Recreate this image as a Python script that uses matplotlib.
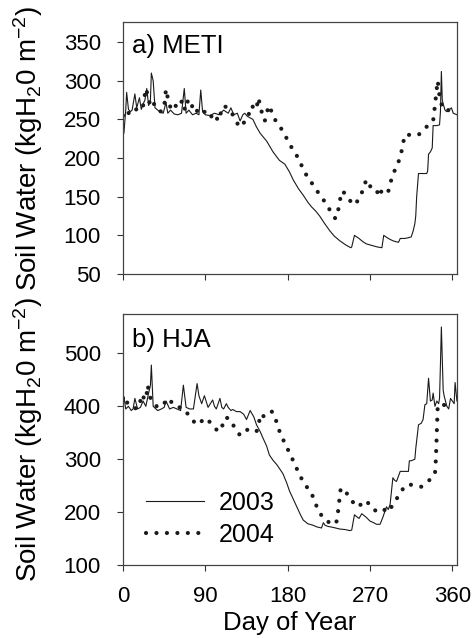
import matplotlib
matplotlib.use("Agg")
import matplotlib.pyplot as plt

plt.rcParams['font.family'] = ['Liberation Sans', 'DejaVu Sans']
plt.rcParams['mathtext.fontset'] = 'custom'
plt.rcParams['mathtext.rm'] = 'Liberation Sans'
plt.rcParams['mathtext.it'] = 'Liberation Sans:italic'

# (day of year, soil water)
# a) METI
meti_2003 = [(0, 255), (1, 232), (3, 262), (4, 285), (6, 263), (8, 260), (10, 262), (13, 283),
             (15, 265), (18, 278), (20, 263), (22, 270), (24, 275), (26, 290), (28, 268),
             (30, 275), (31, 310), (33, 300), (35, 265), (38, 262), (40, 260), (44, 258),
             (47, 272), (49, 258), (52, 262), (56, 257), (60, 256), (64, 258), (67, 290),
             (69, 258), (72, 262), (76, 256), (80, 258), (83, 256), (85, 288), (87, 260),
             (90, 256), (95, 255), (100, 258), (105, 256), (110, 262), (115, 258), (118, 265),
             (121, 256), (125, 258), (128, 248), (131, 256), (133, 258), (136, 254), (139, 252),
             (142, 250), (146, 240), (150, 232), (157, 222), (164, 208), (171, 197), (177, 192),
             (182, 182), (186, 172), (192, 160), (197, 152), (202, 143), (206, 137), (211, 131),
             (215, 125), (220, 116), (226, 106), (231, 99), (237, 93), (243, 88), (249, 84),
             (250, 85), (253, 100), (258, 96), (262, 92), (266, 89), (272, 87), (278, 85),
             (283, 84), (285, 100), (290, 96), (295, 93), (301, 91), (302, 93), (303, 96),
             (308, 96), (312, 97), (315, 98), (317, 105), (319, 115), (320, 125), (321, 150),
             (323, 180), (327, 180), (332, 180), (333, 183), (334, 205), (336, 208), (338, 213),
             (339, 242), (343, 242), (346, 243), (347, 260), (348, 312), (349, 275), (350, 270),
             (352, 262), (354, 260), (356, 262), (357, 263), (359, 265), (361, 258), (365, 256)]

meti_2004 = [(0, 255), (3, 262), (6, 258), (10, 264), (14, 262), (18, 270), (22, 268), (25, 290),
             (27, 282), (29, 272), (31, 265), (34, 270), (38, 262), (42, 260), (45, 266),
             (47, 289), (50, 272), (53, 262), (57, 268), (61, 265), (64, 273), (67, 262),
             (70, 275), (74, 264), (77, 270), (80, 262), (84, 258), (88, 262), (92, 254),
             (95, 252), (100, 258), (104, 248), (108, 262), (111, 268), (115, 262), (119, 258),
             (123, 250), (127, 240), (131, 245), (135, 248), (139, 262), (141, 268), (144, 262),
             (146, 265), (148, 278), (151, 262), (155, 248), (158, 262), (160, 268), (163, 258),
             (166, 250), (172, 240), (177, 230), (182, 218), (188, 207), (193, 197), (197, 185),
             (203, 173), (210, 162), (215, 152), (221, 143), (226, 133), (232, 122), (234, 124),
             (236, 138), (239, 157), (242, 155), (248, 145), (253, 140), (255, 140), (257, 148),
             (261, 155), (266, 172), (272, 160), (276, 160), (281, 150), (283, 160), (287, 157),
             (290, 157), (292, 167), (295, 178), (299, 190), (303, 200), (306, 218), (308, 230),
             (315, 230), (323, 230), (329, 237), (334, 243), (339, 248), (341, 268), (343, 290),
             (344, 300), (346, 280), (348, 270), (351, 262), (356, 262), (359, 257)]

# b) HJA
hja_2003 = [(0, 420), (1, 418), (3, 395), (6, 400), (9, 392), (11, 395), (13, 415), (16, 395),
            (19, 398), (22, 410), (25, 400), (28, 425), (30, 440), (31, 478), (33, 400),
            (36, 395), (38, 392), (42, 395), (45, 398), (47, 410), (51, 395), (55, 398),
            (59, 395), (63, 392), (66, 440), (69, 398), (73, 395), (77, 395), (81, 443),
            (83, 420), (86, 405), (89, 420), (93, 398), (98, 412), (100, 400), (102, 395),
            (106, 415), (108, 398), (110, 395), (113, 405), (115, 398), (118, 392), (120, 394),
            (124, 390), (128, 390), (132, 385), (135, 375), (139, 392), (143, 380), (146, 365),
            (150, 352), (153, 340), (157, 325), (160, 308), (164, 298), (168, 290), (172, 280),
            (175, 272), (179, 255), (182, 240), (186, 225), (190, 210), (194, 195), (197, 185),
            (202, 178), (208, 175), (212, 172), (217, 170), (219, 180), (221, 175), (224, 173),
            (230, 171), (237, 168), (243, 167), (248, 165), (250, 166), (253, 195), (255, 192),
            (258, 188), (261, 197), (266, 190), (270, 183), (274, 180), (277, 177), (281, 177),
            (284, 190), (288, 210), (290, 205), (292, 215), (295, 265), (297, 260), (299, 258),
            (303, 277), (308, 277), (312, 277), (313, 297), (315, 297), (319, 300), (320, 320),
            (323, 365), (326, 368), (328, 375), (330, 403), (332, 405), (334, 453), (336, 410),
            (338, 412), (339, 425), (341, 400), (343, 410), (345, 405), (346, 415), (347, 480),
            (348, 550), (350, 430), (351, 420), (354, 400), (356, 395), (358, 415), (360, 410),
            (362, 405), (363, 445), (365, 410)]

hja_2004 = [(0, 415), (2, 420), (5, 405), (8, 400), (12, 398), (15, 395), (18, 402), (20, 418),
            (22, 412), (24, 430), (26, 425), (27, 440), (29, 420), (31, 412), (34, 405),
            (38, 398), (42, 400), (45, 405), (48, 415), (52, 410), (57, 400), (62, 398),
            (67, 395), (73, 380), (77, 372), (81, 365), (86, 372), (91, 378), (95, 370),
            (98, 365), (104, 352), (108, 360), (111, 378), (115, 378), (117, 375), (122, 360),
            (128, 345), (132, 350), (135, 355), (140, 358), (142, 356), (146, 353), (148, 360),
            (150, 385), (155, 380), (160, 388), (163, 390), (166, 380), (172, 348), (177, 330),
            (182, 312), (188, 290), (193, 270), (199, 252), (206, 236), (213, 205), (219, 188),
            (224, 182), (228, 178), (233, 178), (235, 200), (238, 245), (242, 242), (248, 227),
            (255, 210), (261, 215), (266, 222), (272, 207), (279, 200), (285, 205), (290, 200),
            (297, 220), (303, 235), (308, 250), (314, 252), (319, 250), (326, 248), (331, 255),
            (336, 262), (341, 272), (342, 300), (343, 350), (344, 400), (348, 405), (354, 400),
            (359, 390)]

x_ticks = [0, 90, 180, 270, 360]

fig = plt.figure(figsize=(4.73, 6.38), dpi=100)
ax1 = fig.add_axes([0.260, 0.5705, 0.706, 0.395])
ax2 = fig.add_axes([0.260, 0.1144, 0.706, 0.393])

dot_style = dict(color='#1a1a1a', linewidth=3.0, linestyle=(0, (0.01, 2.5)),
                 dash_capstyle='round')
solid_style = dict(color='#1a1a1a', linewidth=0.8)

ax1.plot(*zip(*meti_2003), **solid_style)
ax1.plot(*zip(*meti_2004), **dot_style)
l1, = ax2.plot(*zip(*hja_2003), label='2003', **solid_style)
l2, = ax2.plot(*zip(*hja_2004), label='2004', **dot_style)

ylabel = r'Soil Water (kgH$_\mathrm{2}$0 m$^\mathrm{-2}$)'
for ax, ylim, yt, tag, ty in [(ax1, (50, 376), range(50, 351, 50), 'a) METI', 0.905),
                              (ax2, (100, 574), range(100, 501, 100), 'b) HJA', 0.896)]:
    ax.set_xlim(0, 365)
    ax.set_ylim(*ylim)
    ax.set_xticks(x_ticks)
    ax.set_yticks(list(yt))
    ax.tick_params(direction='out', length=4, width=0.8, color='#333333',
                   labelsize=16, top=False, right=False)
    ax.tick_params(axis='x', pad=11)
    ax.tick_params(axis='y', pad=12)
    for s in ax.spines.values():
        s.set_color('#444444')
        s.set_linewidth(0.9)
    ax.set_ylabel(ylabel, fontsize=20)
    ax.yaxis.set_label_coords(-0.235, 0.5)
    ax.text(0.027, ty, tag, transform=ax.transAxes, fontsize=18.5, va='center', ha='left')

ax1.tick_params(axis='x', labelbottom=False)
ax2.set_xlabel('Day of Year', fontsize=18.5, labelpad=3)

ax2.legend(handles=[l1, l2], loc='upper left', bbox_to_anchor=(0.07, 0.295),
           frameon=False, fontsize=18, handlelength=2.3, handletextpad=0.6,
           labelspacing=0.3, borderpad=0, borderaxespad=0)

fig.savefig('out.png', dpi=100)
